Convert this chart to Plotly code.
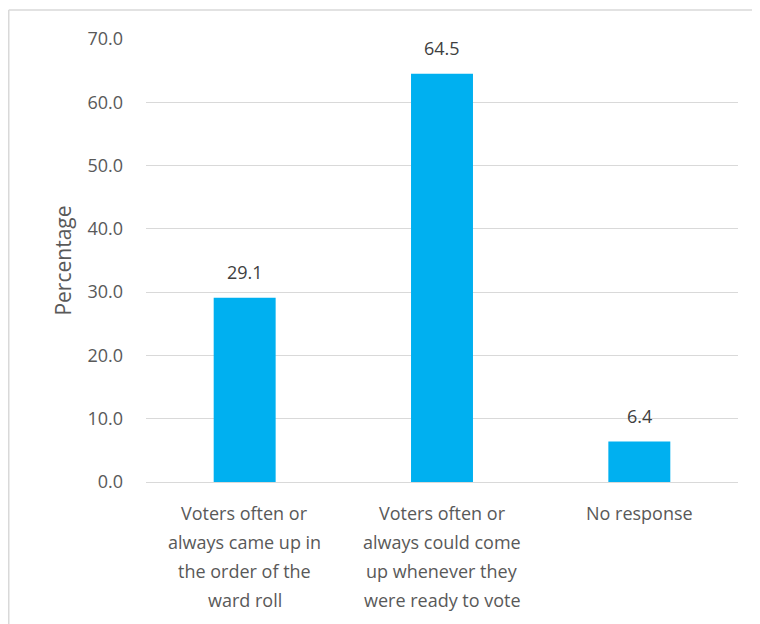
import plotly.graph_objects as go

categories = [
    "Voters often or<br>always came up in<br>the order of the<br>ward roll",
    "Voters often or<br>always could come<br>up whenever they<br>were ready to vote",
    "No response",
]
values = [29.1, 64.5, 6.4]
y_ticks = [0, 10, 20, 30, 40, 50, 60, 70]
y_tick_labels = ["0.0", "10.0", "20.0", "30.0", "40.0", "50.0", "60.0", "70.0"]

FONT = "Open Sans"
TXT = "#595959"

W, H = 752, 616
ML, MR, MT, MB = 138, 22, 31, 142
PW, PH = W - ML - MR, H - MT - MB

fig = go.Figure()
fig.add_trace(go.Bar(
    x=categories, y=values,
    marker=dict(color="#00B0F0", line=dict(width=0)),
    hoverinfo="skip",
))

annotations = []
for c, v in zip(categories, values):
    annotations.append(dict(
        x=c, y=v, xref="x", yref="y", text=f"{v:.1f}", showarrow=False,
        yanchor="bottom", yshift=12,
        font=dict(family=FONT, size=18, color="#404040"),
    ))
for c in categories:
    for i, line in enumerate(c.split("<br>")):
        annotations.append(dict(
            x=c, y=0, xref="x", yref="paper", text=line, showarrow=False,
            yanchor="middle", yshift=-31 - 29 * i,
            font=dict(family=FONT, size=18, color=TXT),
        ))

top_y = 1 + (MT - 2) / PH
left_x = (0.75 - ML) / PW

fig.update_layout(
    width=W, height=H,
    margin=dict(l=ML, r=MR, t=MT, b=MB),
    paper_bgcolor="white", plot_bgcolor="white",
    bargap=0.686,
    showlegend=False,
    annotations=annotations,
    font=dict(family=FONT, size=18, color=TXT),
    xaxis=dict(
        showticklabels=False, showgrid=False, zeroline=False,
        showline=True, linecolor="#D9D9D9", linewidth=1,
        fixedrange=True,
    ),
    yaxis=dict(
        range=[0, 70], tickvals=y_ticks, ticktext=y_tick_labels,
        showgrid=True, gridcolor="#D9D9D9", gridwidth=1,
        zeroline=False, showline=False,
        ticklabelstandoff=22,
        tickfont=dict(family=FONT, size=18, color=TXT),
        title=dict(text="Percentage", font=dict(family=FONT, size=21, color=TXT), standoff=10),
        fixedrange=True,
    ),
    shapes=[
        dict(type="line", xref="paper", yref="paper",
             x0=left_x, x1=1.2, y0=top_y, y1=top_y,
             line=dict(color="#D9D9D9", width=1.5)),
        dict(type="line", xref="paper", yref="paper",
             x0=left_x, x1=left_x, y0=-0.5, y1=top_y,
             line=dict(color="#D9D9D9", width=1.5)),
    ],
)

fig.write_html("out.html", config={"displayModeBar": False})
